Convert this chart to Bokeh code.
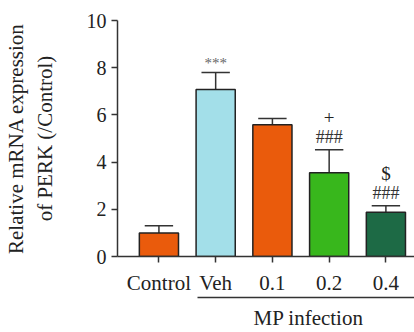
from bokeh.plotting import figure
from bokeh.models import Range1d, FixedTicker, Label, LinearAxis
from bokeh.embed import file_html
from bokeh.resources import INLINE

categories = ["Control", "Veh", "0.1", "0.2", "0.4"]
means = [1.0, 7.08, 5.58, 3.55, 1.88]
errors = [0.30, 0.72, 0.27, 0.97, 0.27]
colors = ["#EA5B0C", "#A3DFE9", "#EA5B0C", "#38B71C", "#1D6A45"]
sig_lower = ["", "***", "", "###", "###"]
sig_upper = ["", "", "", "+", "$"]
group_label = "MP infection"
group_members = ["Veh", "0.1", "0.2", "0.4"]
y_ticks = [0, 2, 4, 6, 8, 10]
y_label = "Relative mRNA expression\nof PERK (/Control)"

FONT = "Liberation Serif"
TXT = "#222222"

xs = list(range(len(categories)))
tops = [m + e for m, e in zip(means, errors)]

p = figure(width=414, height=332, output_backend="svg", toolbar_location=None,
           x_range=Range1d(-0.73, 4.504), y_range=Range1d(0, 10),
           min_border_left=113, min_border_right=0, min_border_top=20,
           min_border_bottom=75)
p.outline_line_color = None
p.xgrid.visible = False
p.ygrid.visible = False
p.background_fill_color = "white"

# error bars
p.segment(x0=xs, y0=means, x1=xs, y1=tops, line_color="#333333", line_width=1.5)
p.segment(x0=[x - 0.25 for x in xs], y0=tops, x1=[x + 0.25 for x in xs], y1=tops,
          line_color="#333333", line_width=1.5)
# bars
p.vbar(x=xs, top=means, bottom=0, width=0.69, fill_color=colors,
       line_color="#222222", line_width=1.5)

# significance marks
for x, t, s in zip(xs, tops, sig_lower):
    if s:
        star = s == "***"
        p.add_layout(Label(x=x, y=t + (0.4 if star else 0.55), text=s,
                           text_align="center", text_baseline="middle",
                           text_font=FONT,
                           text_font_size="15px" if star else "18px",
                           text_color="#666666" if star else "#333333"))
for x, t, s in zip(xs, tops, sig_upper):
    if s:
        p.add_layout(Label(x=x, y=t + 1.35, text=s, text_align="center",
                           text_baseline="middle", text_font=FONT,
                           text_font_size="19px", text_color=TXT))

# axes
p.yaxis.ticker = FixedTicker(ticks=y_ticks)
p.yaxis.minor_tick_line_color = None
p.yaxis.major_tick_in = 0
p.yaxis.major_tick_out = 6
p.yaxis.axis_line_width = 1.5
p.yaxis.major_tick_line_width = 1.5
p.yaxis.axis_line_color = "#333333"
p.yaxis.major_tick_line_color = "#333333"
p.yaxis.major_label_text_font = FONT
p.yaxis.major_label_text_font_size = "20px"
p.yaxis.major_label_text_color = TXT
p.yaxis.major_label_standoff = 5
p.yaxis.axis_label = y_label
p.yaxis.axis_label_text_font = FONT
p.yaxis.axis_label_text_font_size = "21px"
p.yaxis.axis_label_text_font_style = "normal"
p.yaxis.axis_label_text_color = TXT
p.yaxis.axis_label_standoff = 27

xax = p.xaxis[0]
xax.ticker = FixedTicker(ticks=xs)
xax.major_label_overrides = {x: c for x, c in zip(xs, categories)}
xax.minor_tick_line_color = None
xax.major_tick_in = 0
xax.major_tick_out = 6
xax.axis_line_width = 1.5
xax.major_tick_line_width = 1.5
xax.axis_line_color = "#333333"
xax.major_tick_line_color = "#333333"
xax.major_label_text_font = FONT
xax.major_label_text_font_size = "21px"
xax.major_label_text_color = TXT
xax.major_label_standoff = 8

# group bracket as a second, bounded axis below
gi = [categories.index(g) for g in group_members]
g_start, g_end = gi[0] - 0.32, gi[-1] + 0.504
g_mid = 2.638
gax = LinearAxis(ticker=FixedTicker(ticks=[g_mid]), bounds=(g_start, g_end),
                 major_label_overrides={g_mid: group_label})
gax.minor_tick_line_color = None
gax.major_tick_line_color = None
gax.major_tick_in = 0
gax.major_tick_out = 0
gax.axis_line_width = 1.5
gax.axis_line_color = "#333333"
gax.major_label_text_font = FONT
gax.major_label_text_font_size = "21px"
gax.major_label_text_color = TXT
gax.major_label_standoff = 8
p.add_layout(gax, "below")

open("out.html", "w").write(file_html(p, INLINE))
